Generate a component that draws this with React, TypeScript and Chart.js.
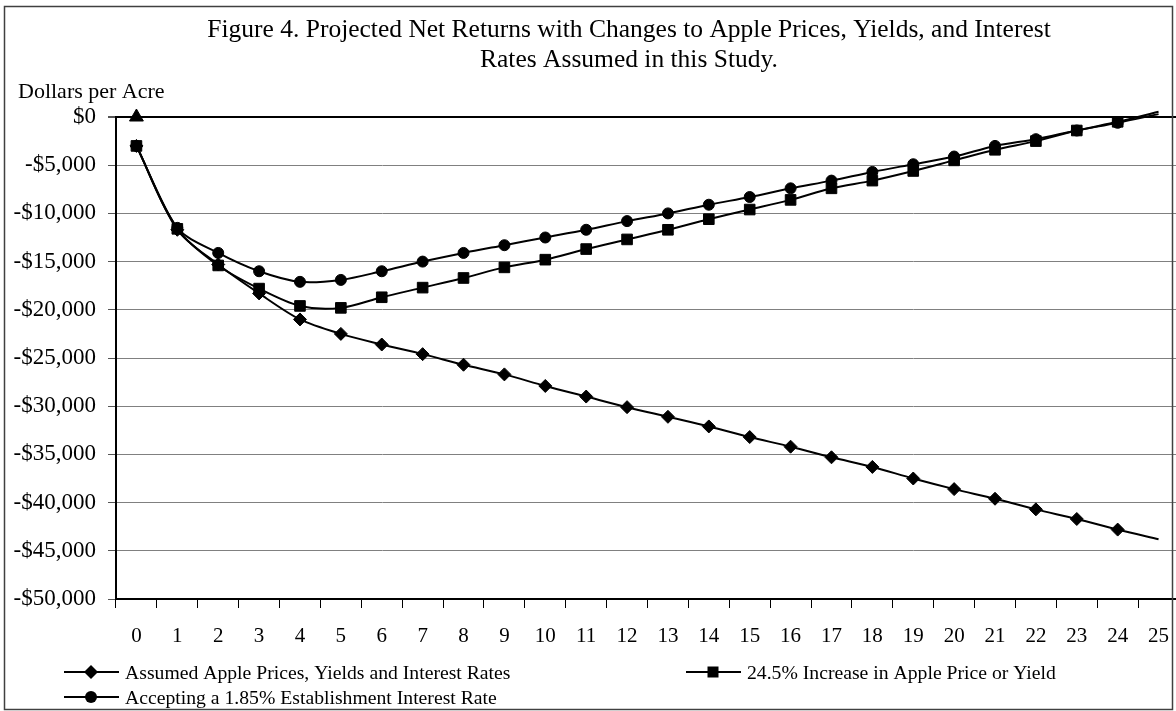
import React, { useEffect, useRef } from 'react';
import { Chart, registerables } from 'chart.js';

Chart.register(...registerables);

const years = ['0', '1', '2', '3', '4', '5', '6', '7', '8', '9', '10', '11', '12', '13', '14', '15', '16', '17', '18', '19', '20', '21', '22', '23', '24', '25'];

const assumedRates = [-3000, -11700, -15300, -18300, -21000, -22500, -23600, -24600, -25700, -26700, -27900, -29000, -30100, -31100, -32100, -33200, -34200, -35300, -36300, -37500, -38600, -39600, -40700, -41700, -42800, -43800];

const increasePriceYield = [-3000, -11600, -15400, -17800, -19600, -19800, -18700, -17700, -16700, -15600, -14800, -13700, -12700, -11700, -10600, -9600, -8600, -7400, -6600, -5600, -4500, -3400, -2500, -1400, -500, 550];

const acceptingRate = [-3000, -11500, -14100, -16000, -17100, -16900, -16000, -15000, -14100, -13300, -12500, -11700, -10800, -10000, -9100, -8300, -7400, -6600, -5700, -4900, -4100, -3000, -2300, -1400, -600, 300];

const startPoint = [0, null, null, null, null, null, null, null, null, null, null, null, null, null, null, null, null, null, null, null, null, null, null, null, null, null];

const seriesNames = [
  'Assumed Apple Prices, Yields and Interest Rates',
  '24.5% Increase in Apple Price or Yield',
  'Accepting a 1.85% Establishment Interest Rate',
];

const titleLines = [
  'Figure 4. Projected Net Returns with Changes to Apple Prices, Yields, and Interest',
  'Rates Assumed in this Study.',
];

const yAxisUnit = 'Dollars per Acre';

const yMin = -50000;
const yMax = 0;
const yStep = 5000;

const FONT = '"Liberation Serif", "Times New Roman", serif';

function drawMarker(ctx: CanvasRenderingContext2D, style: string, x: number, y: number) {
  ctx.beginPath();
  if (style === 'diamond') {
    const r = 7;
    ctx.moveTo(x, y - r);
    ctx.lineTo(x + r, y);
    ctx.lineTo(x, y + r);
    ctx.lineTo(x - r, y);
    ctx.closePath();
  } else if (style === 'square') {
    const s = 5.5;
    ctx.rect(x - s, y - s, 2 * s, 2 * s);
  } else {
    ctx.arc(x, y, 6, 0, Math.PI * 2);
  }
  ctx.fill();
}

const overlayPlugin = {
  id: 'overlayTexts',
  afterDraw(chart: any) {
    const ctx: CanvasRenderingContext2D = chart.ctx;
    ctx.save();
    // outer frame
    ctx.strokeStyle = '#404040';
    ctx.lineWidth = 1.5;
    ctx.strokeRect(4.5, 6.5, 1168, 703);

    ctx.fillStyle = '#000';
    ctx.textBaseline = 'alphabetic';
    // title
    ctx.font = `25.5px ${FONT}`;
    ctx.textAlign = 'center';
    ctx.fillText(titleLines[0], 629, 37);
    ctx.fillText(titleLines[1], 629, 67);
    // unit label
    ctx.font = `22px ${FONT}`;
    ctx.textAlign = 'left';
    ctx.fillText(yAxisUnit, 18, 98);

    // legend
    const items = [
      { name: seriesNames[0], style: 'diamond', x: 64, y: 672 },
      { name: seriesNames[1], style: 'square', x: 686, y: 672 },
      { name: seriesNames[2], style: 'circle', x: 64, y: 697 },
    ];
    ctx.font = `19.7px ${FONT}`;
    for (const it of items) {
      ctx.strokeStyle = '#000';
      ctx.lineWidth = 2;
      ctx.beginPath();
      ctx.moveTo(it.x, it.y);
      ctx.lineTo(it.x + 55, it.y);
      ctx.stroke();
      ctx.fillStyle = '#000';
      drawMarker(ctx, it.style, it.x + 27, it.y);
      ctx.textAlign = 'left';
      ctx.fillText(it.name, it.x + 61, it.y + 7);
    }
    ctx.restore();
  },
};

export default function App() {
  const canvasRef = useRef<HTMLCanvasElement | null>(null);

  useEffect(() => {
    if (!canvasRef.current) return;
    const lastIdx = years.length - 1;
    const radius = (r: number) => (c: any) => (c.dataIndex === lastIdx ? 0 : r);
    const common = {
      borderColor: '#000',
      backgroundColor: '#000',
      pointBackgroundColor: '#000',
      pointBorderColor: '#000',
      pointBorderWidth: 1,
      borderWidth: 2,
      tension: 0.3,
      clip: 12,
    };
    const chart = new Chart(canvasRef.current, {
      type: 'line',
      data: {
        labels: years,
        datasets: [
          { ...common, label: seriesNames[0], data: assumedRates, pointStyle: 'rectRot', pointRadius: radius(6.5) },
          { ...common, label: seriesNames[1], data: increasePriceYield, pointStyle: 'rect', pointRadius: radius(7.5) },
          { ...common, label: seriesNames[2], data: acceptingRate, pointStyle: 'circle', pointRadius: radius(5.5) },
          { ...common, label: 'Start', data: startPoint, pointStyle: 'triangle', pointRadius: 8, showLine: false },
        ],
      },
      options: {
        responsive: false,
        animation: false,
        devicePixelRatio: 1,
        layout: { autoPadding: false, padding: { top: 117, left: 0, right: 1, bottom: 0 } },
        plugins: {
          legend: { display: false },
          title: { display: false },
          tooltip: { enabled: false },
        },
        scales: {
          x: {
            type: 'category',
            offset: true,
            grid: {
              offset: true,
              drawOnChartArea: false,
              drawTicks: true,
              tickLength: 9,
              color: '#000',
              tickColor: '#000',
            },
            border: { color: '#000', width: 2 },
            ticks: {
              color: '#000',
              font: { family: FONT, size: 21 },
              padding: 16,
              maxRotation: 0,
              autoSkip: false,
            },
            afterFit: (scale: any) => {
              scale.height = 112;
              scale.paddingRight = 0;
              scale.paddingLeft = 0;
            },
          },
          y: {
            min: yMin,
            max: yMax,
            grid: {
              color: (c: any) => (c.tick && c.tick.value === 0 ? '#000' : '#808080'),
              lineWidth: (c: any) => (c.tick && c.tick.value === 0 ? 2 : 1),
              tickLength: 8,
              tickColor: '#555',
            },
            border: { color: '#000', width: 2 },
            ticks: {
              stepSize: yStep,
              color: '#000',
              font: { family: FONT, size: 23 },
              padding: 12,
              callback: (v: any) => (v === 0 ? '$0' : '-$' + Math.abs(Number(v)).toLocaleString('en-US')),
            },
            afterFit: (scale: any) => {
              scale.width = 116;
            },
          },
        },
      },
      plugins: [overlayPlugin],
    });
    return () => chart.destroy();
  }, []);

  return (
    <div style={{ position: 'fixed', left: 0, top: 0, width: 1176, height: 711, overflow: 'hidden', background: '#fff' }}>
      <canvas ref={canvasRef} width={1180} height={711} style={{ display: 'block', width: 1180, height: 711 }} />
    </div>
  );
}
